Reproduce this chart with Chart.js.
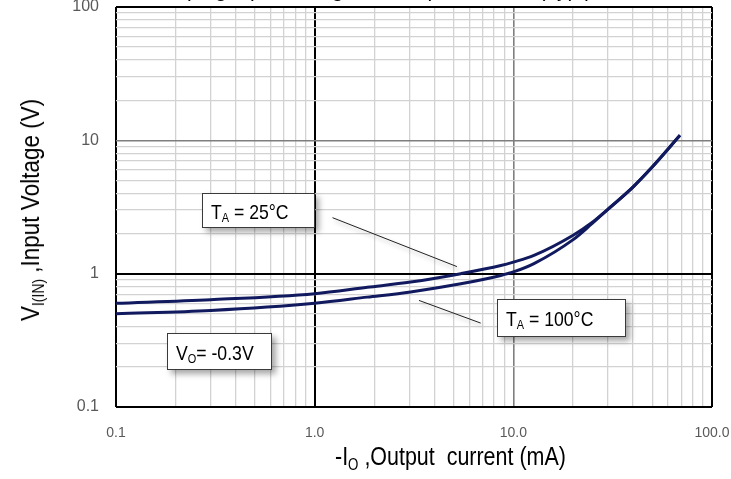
<!DOCTYPE html>
<html>
<head>
<meta charset="utf-8">
<script src="https://cdn.jsdelivr.net/npm/chart.js@4/dist/chart.umd.min.js"></script>
<style>
  body { margin: 0; background: #fff; }
  #wrap { position: relative; width: 731px; height: 479px; overflow: hidden; font-family: 'Liberation Sans', Arial, sans-serif; }
  #wrap canvas { position: absolute; left: 0; top: 0; }
  .lbl { position: absolute; white-space: nowrap; color: #000; line-height: 1; }
  .lbl sub, .box sub { font-size: 62%; vertical-align: -0.28em; line-height: 0; }
  .box { position: absolute; background: #fff; border: 1px solid #3a3a3a; box-shadow: 4px 4px 6px rgba(0,0,0,0.35);
         box-sizing: border-box; font-size: 21px; white-space: nowrap; line-height: 1; }
  .box span { position: absolute; left: 8px; top: 50%; transform: translateY(-50%) scaleX(0.84); transform-origin: left center; }
</style>
</head>
<body>
<div id="wrap">
  <canvas id="chart" width="731" height="479"></canvas>
  <div class="lbl" style="left:138px; top:-22px; font-size:21px; line-height:normal;">Clamping Input Voltage vs. Output Current (Typ.)</div>
  <div class="lbl" style="left:335px; top:443px; font-size:26px; transform: scaleX(0.825); transform-origin: left top;">-I<sub>O</sub> ,Output&nbsp; current (mA)</div>
  <div class="lbl" style="left:30px; top:210px; font-size:26px; transform: translate(-50%,-50%) rotate(-90deg) scaleX(0.865);">V<sub>I(IN)</sub> ,Input Voltage (V)</div>
  <div class="box" style="left:202px; top:193px; width:113px; height:35px;"><span>T<sub>A</sub> = 25°C</span></div>
  <div class="box" style="left:497px; top:299px; width:129px; height:38px;"><span>T<sub>A</sub> = 100°C</span></div>
  <div class="box" style="left:167px; top:333px; width:105px; height:37px;"><span>V<sub>O</sub>= -0.3V</span></div>
</div>
<script>
// output current (mA)
const current = [0.1, 0.3, 1, 1.84, 3.04, 5.44, 8.65, 10, 12.7, 20, 24.7, 30, 40, 50, 69];
// input voltage (V)
const vin25 = [0.60, 0.638, 0.708, 0.79, 0.865, 1.0, 1.15, 1.22, 1.37, 1.94, 2.4, 3.05, 4.46, 6.3, 10.9];
const vin100 = [0.50, 0.53, 0.60, 0.667, 0.73, 0.84, 0.97, 1.03, 1.19, 1.80, 2.35, 3.05, 4.46, 6.3, 10.9];

const xDecades = [0.1, 1, 10, 100];
const xTickLabels = ['0.1', '1.0', '10.0', '100.0'];
const yDecades = [0.1, 1, 10, 100];
const yTickLabels = ['0.1', '1', '10', '100'];

// leader lines from the labels to the curves (data coords)
const leader25 = [[1.23, 2.63], [5.2, 1.13]];
const leader100 = [[3.35, 0.63], [6.85, 0.426]];

// 1..9 per decade for the grid
function logTicks(min, max) {
  const out = [];
  for (let d = min; d < max * 0.999; d *= 10) {
    for (let m = 1; m <= 9; m++) out.push(+(d * m).toPrecision(3));
  }
  out.push(max);
  return out;
}

function near(a, b) { return Math.abs(a - b) / b < 1e-6; }

function gridColor(ctx) {
  const v = ctx.tick ? ctx.tick.value : 0;
  if (near(v, 1) || near(v, 0.1) || near(v, 100)) return '#000';
  if (near(v, 10)) return '#7f7f7f';
  return '#d2d2d2';
}
function gridWidth(ctx) {
  const v = ctx.tick ? ctx.tick.value : 0;
  if (near(v, 1) || near(v, 0.1) || near(v, 100)) return 2;
  if (near(v, 10)) return 1.6;
  return 1.3;
}

// labels may overflow the plot; don't let them shrink the chart area
function noOverflow(s) {
  s.paddingTop = 0; s.paddingBottom = 0; s.paddingLeft = 0; s.paddingRight = 0;
}

const leaders = {
  id: 'leaders',
  afterDatasetsDraw(chart) {
    const { ctx, scales: { x, y } } = chart;
    ctx.save();
    [leader25, leader100].forEach(l => {
      const x1 = x.getPixelForValue(l[0][0]), y1 = y.getPixelForValue(l[0][1]);
      const x2 = x.getPixelForValue(l[1][0]), y2 = y.getPixelForValue(l[1][1]);
      ctx.shadowColor = 'rgba(0,0,0,0.3)';
      ctx.shadowBlur = 4;
      ctx.shadowOffsetX = 2;
      ctx.shadowOffsetY = 3;
      ctx.strokeStyle = '#222';
      ctx.lineWidth = 1;
      ctx.beginPath();
      ctx.moveTo(x1, y1);
      ctx.lineTo(x2, y2);
      ctx.stroke();
    });
    ctx.restore();
  }
};

new Chart(document.getElementById('chart'), {
  type: 'line',
  data: {
    datasets: [
      { label: 'TA = 25°C', data: current.map((c, i) => ({ x: c, y: vin25[i] })) },
      { label: 'TA = 100°C', data: current.map((c, i) => ({ x: c, y: vin100[i] })) }
    ].map(d => Object.assign(d, {
      borderColor: '#111a5e', borderWidth: 3, pointRadius: 0,
      cubicInterpolationMode: 'monotone', fill: false
    }))
  },
  options: {
    responsive: false,
    animation: false,
    layout: { autoPadding: false, padding: { top: 7, right: 19, left: 0, bottom: 0 } },
    plugins: { legend: { display: false }, tooltip: { enabled: false } },
    scales: {
      x: {
        type: 'logarithmic', min: 0.1, max: 100,
        afterBuildTicks: s => { s.ticks = logTicks(0.1, 100).map(v => ({ value: v })); },
        afterFit: s => { s.height = 72; noOverflow(s); },
        grid: { color: gridColor, lineWidth: gridWidth, drawTicks: false },
        border: { display: false },
        ticks: {
          autoSkip: false, maxRotation: 0, padding: 18, color: '#595959',
          font: { family: "'Liberation Sans', Arial", size: 14 },
          callback: v => { const i = xDecades.findIndex(d => near(v, d)); return i >= 0 ? xTickLabels[i] : ''; }
        }
      },
      y: {
        type: 'logarithmic', min: 0.1, max: 100,
        afterBuildTicks: s => { s.ticks = logTicks(0.1, 100).map(v => ({ value: v })); },
        afterFit: s => { s.width = 116; noOverflow(s); },
        grid: { color: gridColor, lineWidth: gridWidth, drawTicks: false },
        border: { display: false },
        ticks: {
          autoSkip: false, padding: 17, color: '#595959',
          font: { family: "'Liberation Sans', Arial", size: 16 },
          callback: v => { const i = yDecades.findIndex(d => near(v, d)); return i >= 0 ? yTickLabels[i] : ''; }
        }
      }
    }
  },
  plugins: [leaders]
});
</script>
</body>
</html>
